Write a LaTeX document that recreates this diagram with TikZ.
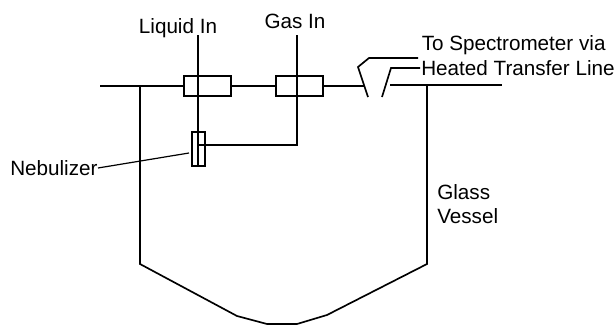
\documentclass[tikz,border=0pt]{standalone}
\usepackage{fontspec}
\setmainfont{Liberation Sans}
\usetikzlibrary{positioning}

\begin{document}
\begin{tikzpicture}[
      x=0.75pt, y=-0.75pt,
      every node/.style={font=\fontsize{15.5}{18}\selectfont},
      lbl/.style={inner sep=0pt, align=left},
      box/.style={draw, line width=1.25pt, inner sep=0pt, minimum width=35.25pt, minimum height=15pt},
      neb/.style={draw, line width=1.25pt, inner sep=0pt, minimum width=9.75pt, minimum height=25.5pt},
      ln/.style={line width=1.25pt},
      thinln/.style={line width=0.9pt}
    ]
    \useasboundingbox (0,0) rectangle (615,325);
    % fittings on the top line
    \node[box] (liq) at (207.5,86) {};
    \node[box] (gas) at (299.5,86) {};
    \node[neb] (nebu) at (198.5,149) {};
    % labels
    \node[lbl, anchor=base] (liqin) at (178,33) {Liquid In};
    \node[lbl, anchor=base] (gasin) at (295,28) {Gas In};
    \node[lbl, anchor=base west] (spec) at (421.5,50) {To Spectrometer via};
    \node[lbl, anchor=base west] (heat) at (421,75) {Heated Transfer Line};
    \node[lbl, anchor=base west] (neblbl) at (10,175) {Nebulizer};
    \node[lbl, anchor=base west] (glass) at (437,199) {Glass};
    \node[lbl, anchor=base west] (vessel) at (437,223) {Vessel};
    % free ends
    \coordinate (topl) at (100,86);
    \coordinate (vl) at (140,86);
    \coordinate (vr) at (427,85);
    \coordinate (gapl) at (364,86);
    \coordinate (gapr) at (390,85);
    \coordinate (topr) at (502,85);
    \coordinate (liqtop) at (198,35);
    \coordinate (gastop) at (297,35);
    \coordinate (nebend) at (198,166);
    \coordinate (gasbend) at (297,145);
    \coordinate (gasend) at (198,145);
    \coordinate (leadl) at (98,168);
    \coordinate (leadr) at (189,153);
    % top line
    \draw[ln] (topl) -- (liq);
    \draw[ln] (liq) -- (gas);
    \draw[ln] (gas) -- (gapl);
    \draw[ln] (gapr) -- (topr);
    % feeds
    \draw[ln] (liqtop) -- (nebend);
    \draw[ln] (gastop) -- (gasbend) -- (gasend);
    \draw[thinln] (leadl) -- (leadr);
    % transfer line
    \draw[ln] (368,97) -- (358,67) -- (369,58) -- (418,58);
    \draw[ln] (382,97) -- (391,68) -- (420,68);
    % vessel
    \draw[ln] (vl) -- (140,264) -- (237,316) -- (267,324) -- (297,324)
      -- (327,315) -- (427,264) -- (vr);
  \end{tikzpicture}
\end{document}
